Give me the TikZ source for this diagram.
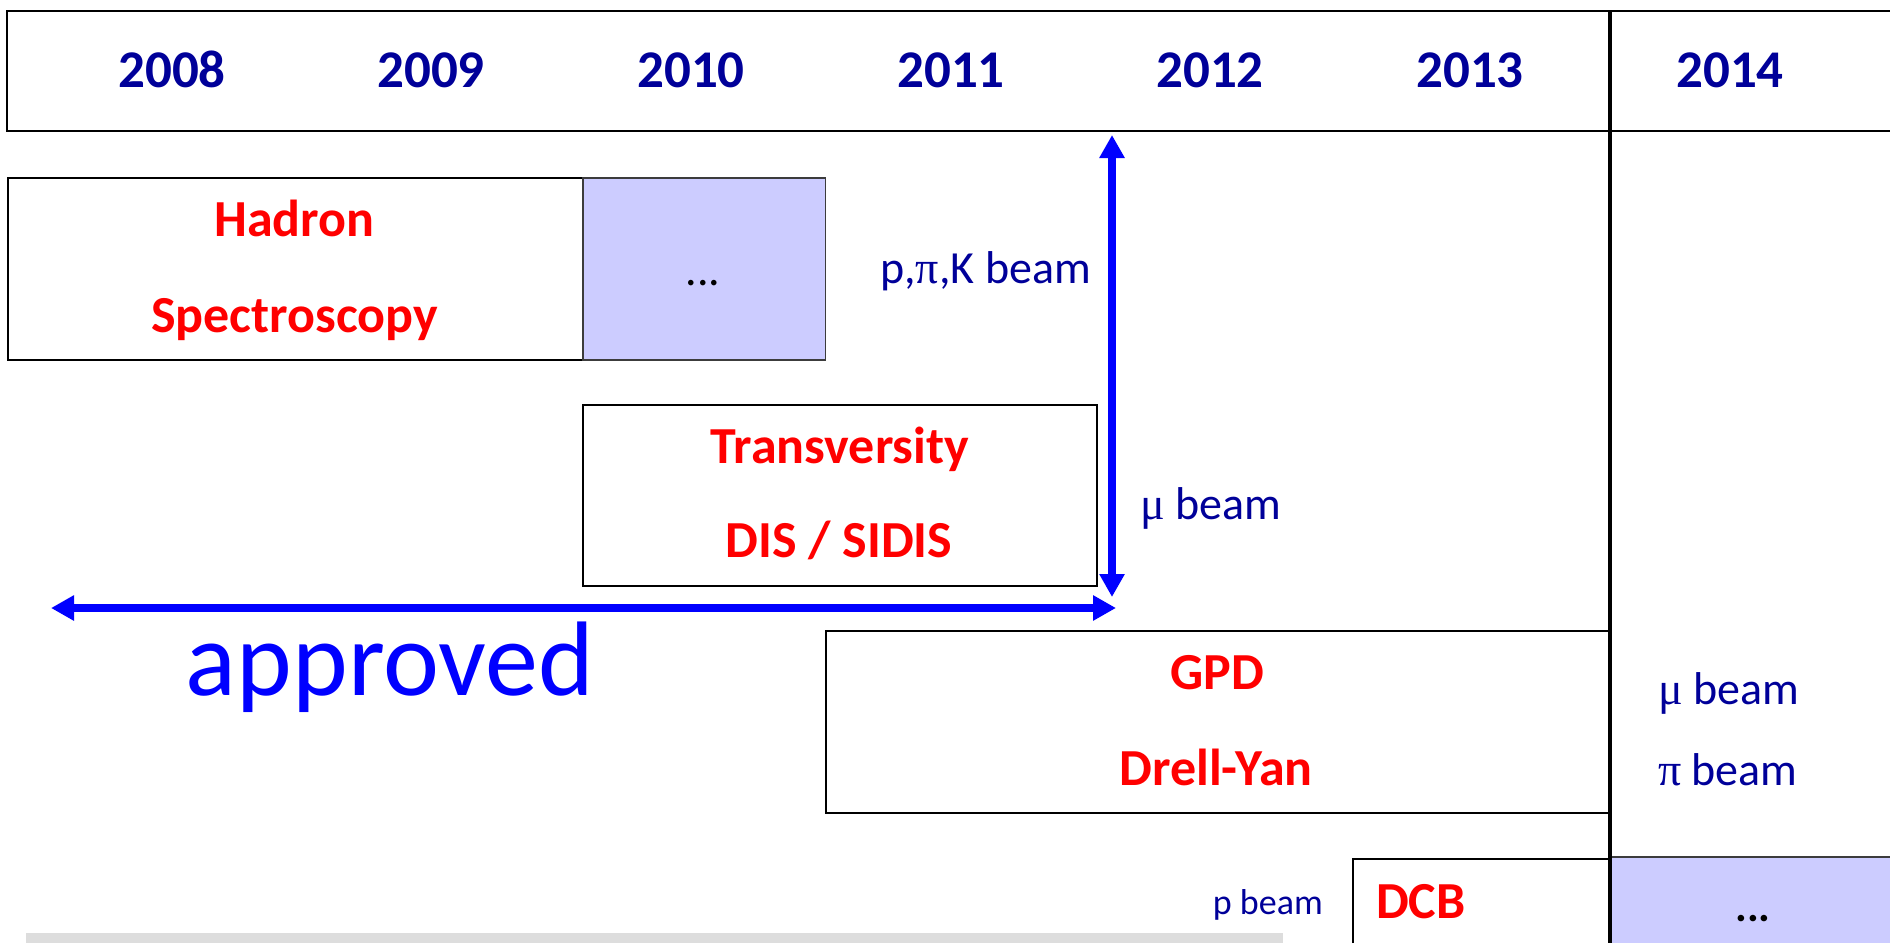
\documentclass[tikz,border=0pt]{standalone}
\usepackage{fontspec}
\setmainfont{Carlito}
\newfontfamily\grk{Liberation Serif}
\usetikzlibrary{arrows.meta}
\definecolor{navy}{RGB}{0,0,153}
\definecolor{lav}{RGB}{204,204,255}
\definecolor{bargray}{RGB}{221,221,221}
\definecolor{edgegray}{RGB}{60,60,60}
\begin{document}
\begin{tikzpicture}[x=1pt,y=-1pt,
  yearlbl/.style={font=\fontsize{53}{60}\selectfont\bfseries, text=navy, anchor=base, inner sep=0pt},
  topic/.style={font=\fontsize{52}{60}\selectfont\bfseries, text=red, anchor=base, inner sep=0pt},
  beamlbl/.style={font=\fontsize{46}{54}\selectfont, text=navy, inner sep=0pt},
  box/.style={draw=black, line width=2pt, inner sep=0pt, anchor=north west},
  lavbox/.style={box, fill=lav, draw=edgegray, line width=1.5pt},
  bigarrow/.style={draw=blue, line width=7.5pt, {Triangle[width=24pt,length=23pt]}-{Triangle[width=24pt,length=23pt]}}
]
\useasboundingbox (0,0) rectangle (1890,943);

% year header
\draw[line width=2pt] (1890,10.7) -- (7,10.7) -- (7,131) -- (1890,131);
\node[yearlbl] (y2008) at (172,87) {2008};
\node[yearlbl] (y2009) at (431,87) {2009};
\node[yearlbl] (y2010) at (691,87) {2010};
\node[yearlbl] (y2011) at (951,87) {2011};
\node[yearlbl] (y2012) at (1210,87) {2012};
\node[yearlbl] (y2013) at (1470,87) {2013};
\node[yearlbl] (y2014) at (1730,87) {2014};

% Hadron spectroscopy
\node[box, minimum width=575pt, minimum height=182pt] (hadron) at (7,177) {};
\node[topic] (hadronA) at (294.5,236) {Hadron};
\node[topic] (hadronB) at (294.5,332) {Spectroscopy};
\node[lavbox, minimum width=242.5pt, minimum height=182pt] (more1) at (582,177) {};
\node[font=\fontsize{46}{50}\selectfont, anchor=base, inner sep=0pt] (dots1) at (703,285) {...};

% Transversity
\node[box, minimum width=514pt, minimum height=181pt] (trans) at (582,404) {};
\node[topic] (transA) at (840,463) {Transversity};
\node[topic] (transB) at (839,557) {DIS / SIDIS};

% GPD / Drell-Yan
\node[box, minimum width=785.5pt, minimum height=182pt] (gpd) at (824.5,630) {};
\node[topic] (gpdA) at (1217,689) {GPD};
\node[topic] (gpdB) at (1216,785) {Drell-Yan};

% DCB
\draw[line width=2pt] (1353,943) -- (1353,859) -- (1610,859);
\node[topic, anchor=base west] (dcb) at (1376,918) {DCB};
\node[beamlbl, font=\fontsize{36}{42}\selectfont, anchor=base east] (pbeam) at (1323,914) {p beam};

% lavender box bottom right
\fill[lav] (1610,857) rectangle (1890,943);
\draw[line width=1.5pt, edgegray] (1610,857) -- (1890,857);
\node[font=\fontsize{44}{50}\selectfont\bfseries, anchor=base, inner sep=0pt] (dots2) at (1753,921) {...};

% grey bar
\fill[bargray] (26,933) rectangle (1283,943);

% vertical divider
\draw[line width=4pt] (1610,10) -- (1610,943);

% beam labels
\node[beamlbl, anchor=base east] (pik) at (1091,283) {p,{\grk π},K beam};
\node[beamlbl, anchor=base west] (mu1) at (1140.5,519) {{\grk μ} beam};
\node[beamlbl, anchor=base west] (mu2) at (1658,704) {{\grk μ} beam};
\node[beamlbl, anchor=base west] (pi2) at (1658,785) {{\grk π} beam};

% arrows
\coordinate (vtop) at (1112,135);
\coordinate (vbot) at (1112,597);
\draw[bigarrow] (vbot) -- (vtop);
\coordinate (hleft) at (51,608);
\coordinate (hright) at (1116,608);
\draw[bigarrow] (hleft) -- (hright);
\node[font=\fontsize{106}{112}\selectfont, text=blue, anchor=base, inner sep=0pt] (approved) at (390,695) {approved};
\end{tikzpicture}
\end{document}
